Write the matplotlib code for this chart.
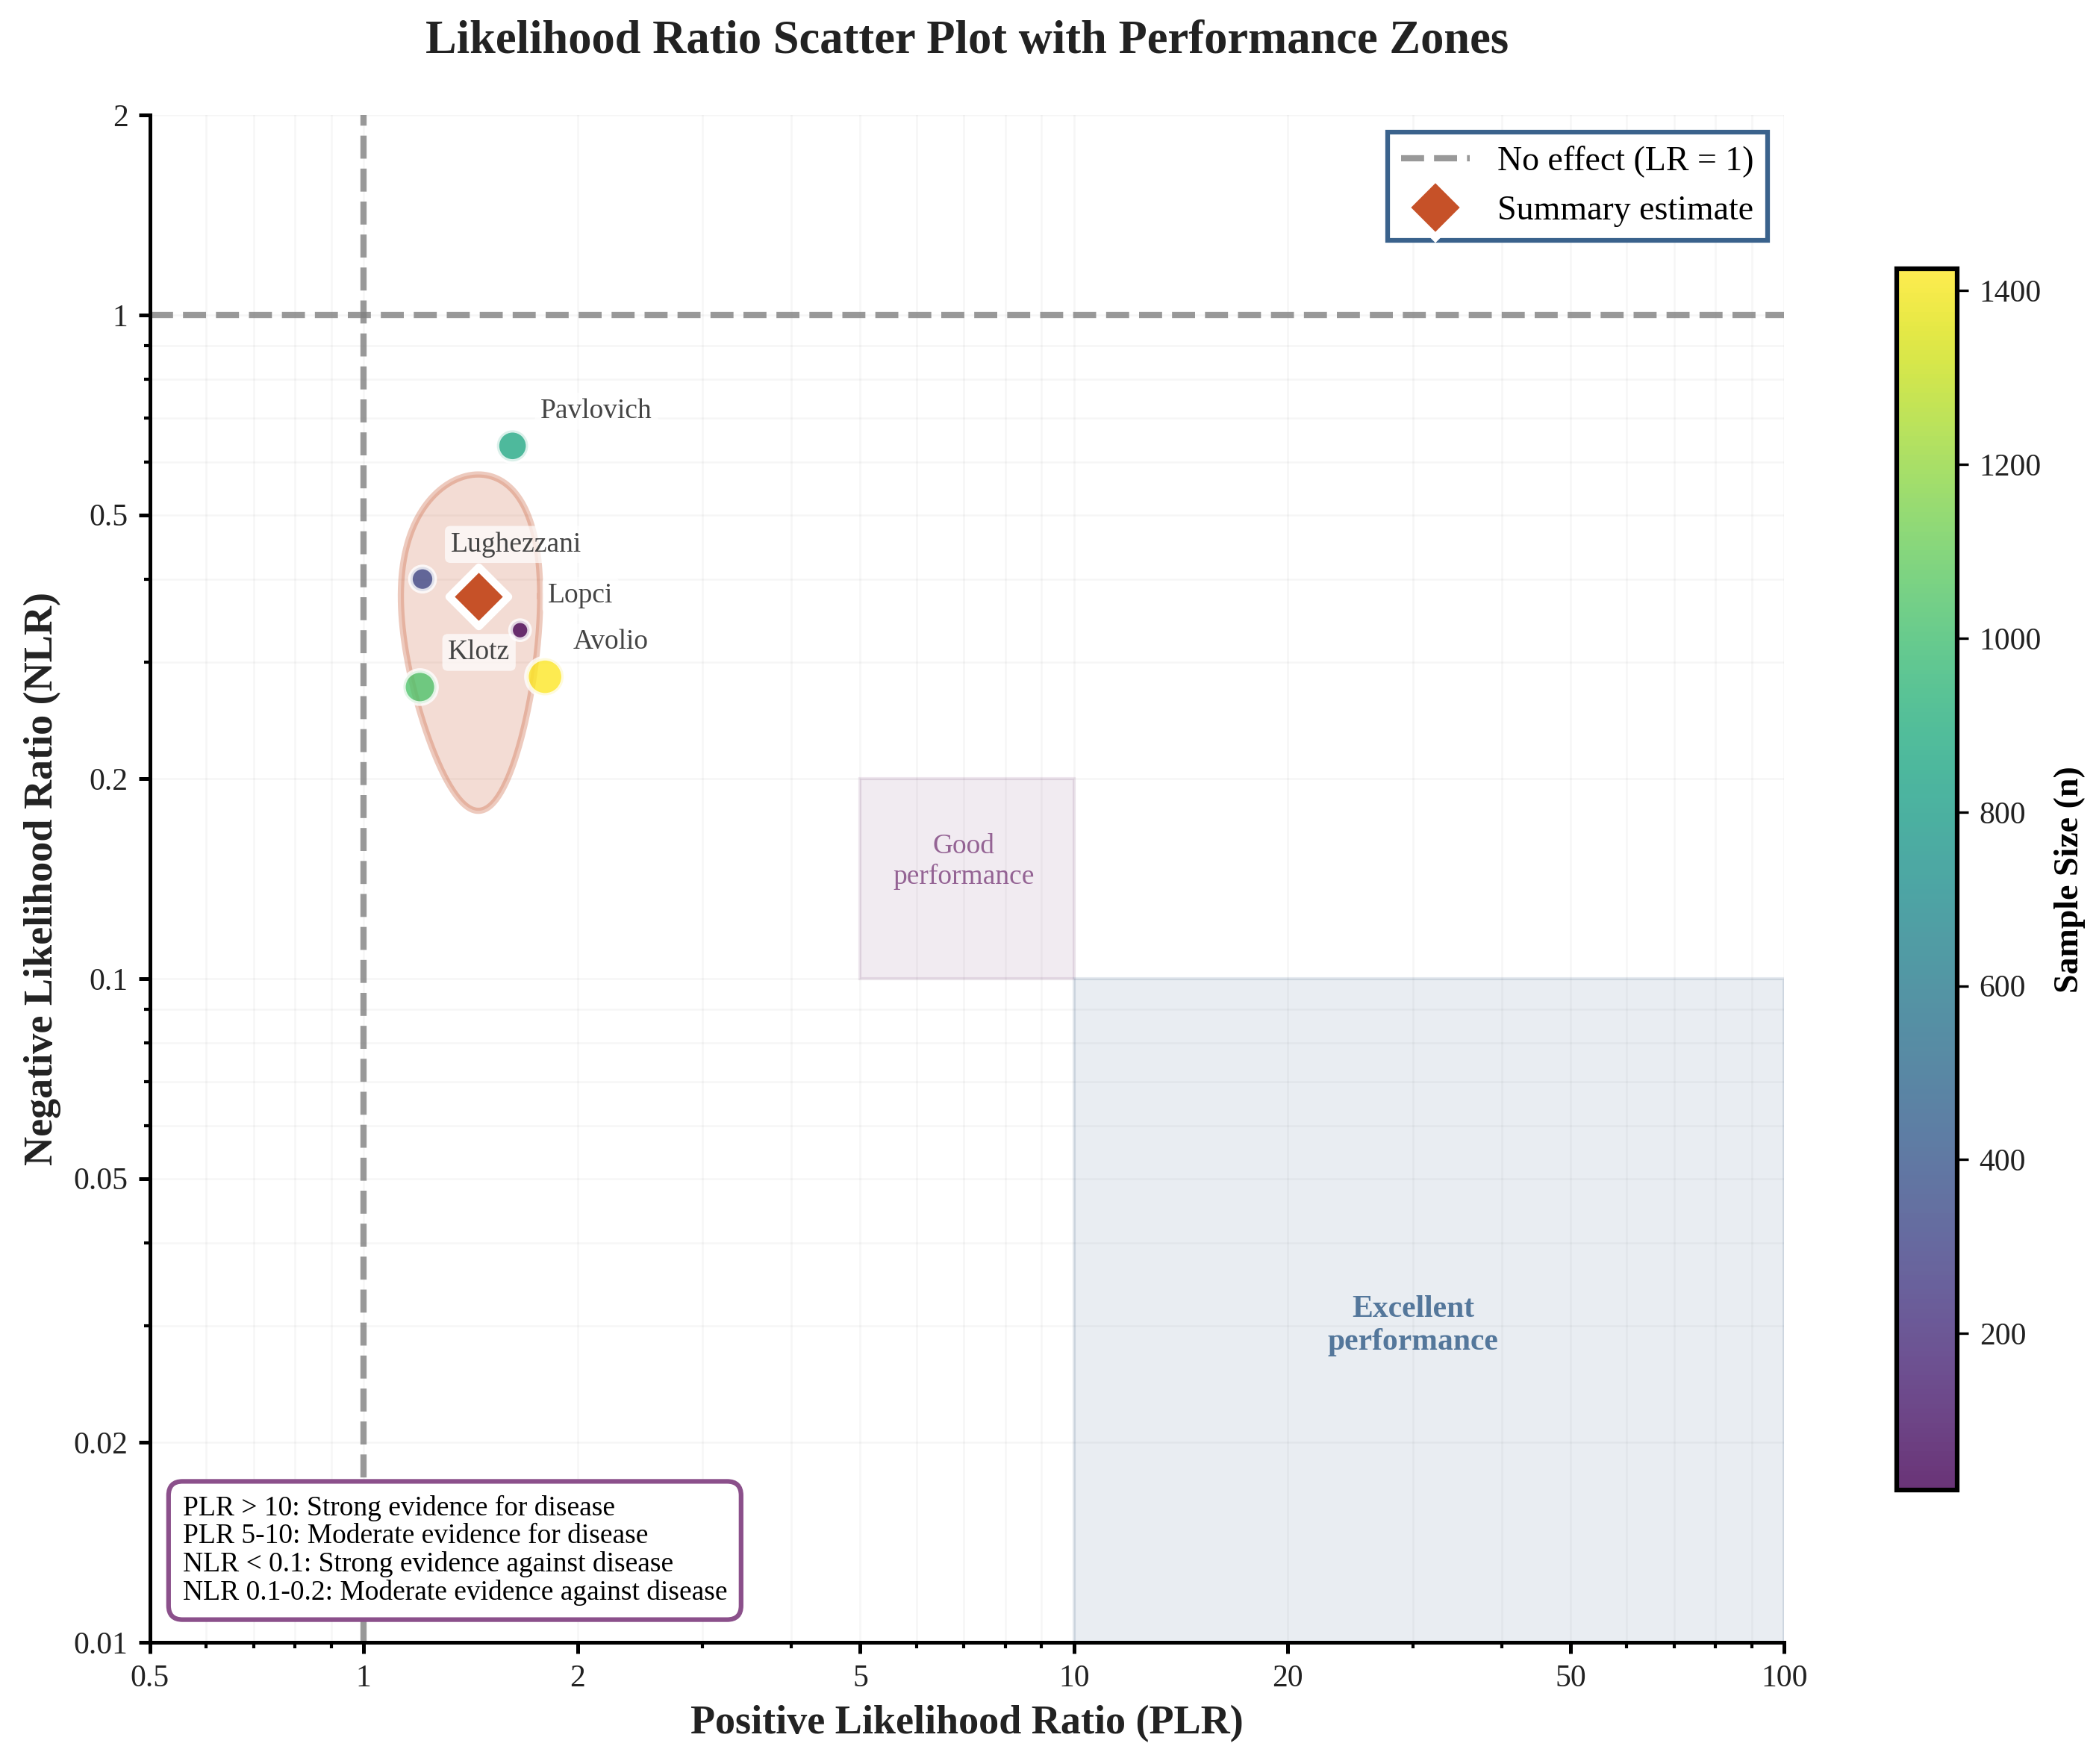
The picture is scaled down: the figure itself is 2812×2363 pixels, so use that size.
import numpy as np
import matplotlib
matplotlib.use("Agg")
import matplotlib.pyplot as plt
from matplotlib.patches import Rectangle
from matplotlib.lines import Line2D

plt.rcParams['font.family'] = ['Liberation Serif', 'DejaVu Serif']

# study data
studies = ['Pavlovich', 'Lughezzani', 'Lopci', 'Avolio', 'Klotz']
plr = [1.62, 1.21, 1.66, 1.80, 1.20]
nlr = [0.635, 0.40, 0.335, 0.285, 0.275]
sample_n = [865, 330, 20, 1425, 1030]

# pooled estimate and its region
summary_plr = 1.45
summary_nlr = 0.377
region_plr_half = 0.322
region_nlr_half = 0.198

# zones: (x0, x1, y0, y1) and label anchor
good_zone = (5, 10, 0.1, 0.2)
good_label_at = (7, 0.15)
excellent_zone = (10, 100, 0.01, 0.1)
excellent_label_at = (30, 0.03)

xticks = [0.5, 1, 2, 5, 10, 20, 50, 100]
yticks = [0.01, 0.02, 0.05, 0.1, 0.2, 0.5, 1, 2]

purple = '#7D417D'
steel = '#3A628C'
rust = '#C65128'

fig = plt.figure(figsize=(2812 / 300, 2363 / 300), dpi=300)
ax = fig.add_axes([0.0714, 0.069, 0.7787, 0.8657])
cax = fig.add_axes([0.9036, 0.1555, 0.029, 0.692])

ax.set_xscale('log')
ax.set_yscale('log')
ax.set_xlim(0.5, 100)
ax.set_ylim(0.01, 2)

# performance zones
gx0, gx1, gy0, gy1 = good_zone
ax.add_patch(Rectangle((gx0, gy0), gx1 - gx0, gy1 - gy0, facecolor=(0.49, 0.255, 0.49, 0.1),
                       edgecolor=(0.49, 0.255, 0.49, 0.12), lw=1, zorder=1))
ax.text(*good_label_at, 'Good\nperformance', ha='center', va='center',
        fontsize=9, color=purple, alpha=0.8)
ex0, ex1, ey0, ey1 = excellent_zone
ax.add_patch(Rectangle((ex0, ey0), ex1 - ex0, ey1 - ey0, facecolor=(0.227, 0.384, 0.549, 0.11),
                       edgecolor=(0.227, 0.384, 0.549, 0.13), lw=1, zorder=1))
ax.text(*excellent_label_at, 'Excellent\nperformance', ha='center', va='center',
        fontsize=10, color=steel, alpha=0.85, fontweight='bold')

# reference lines
ax.axhline(1, color='gray', ls='--', lw=2, alpha=0.8, zorder=2)
ax.axvline(1, color='gray', ls='--', lw=2, alpha=0.8, zorder=2)

# confidence region around the summary estimate
t = np.linspace(0, 2 * np.pi, 300)
ex = summary_plr + region_plr_half * np.cos(t)
ey = summary_nlr + region_nlr_half * np.sin(t)
ax.fill(ex, ey, facecolor=rust, alpha=0.2, zorder=2)
ax.plot(ex, ey, color=rust, alpha=0.3, lw=2, zorder=2)

sizes = [36 + 0.075 * n for n in sample_n]
sc = ax.scatter(plr, nlr, c=sample_n, s=sizes, cmap='viridis', alpha=0.8,
                edgecolors='white', linewidths=1.5, zorder=4)

for name, x, y in zip(studies, plr, nlr):
    ax.annotate(name, (x, y), xytext=(9, 7), textcoords='offset points', ha='left', va='bottom',
                fontsize=9, color='#444444',
                bbox=dict(boxstyle='round,pad=0.2', facecolor='white', edgecolor='none', alpha=0.7),
                zorder=5)

ax.scatter([summary_plr], [summary_nlr], marker='D', s=180, color=rust, edgecolors='white',
           linewidths=2.5, zorder=6)

ax.set_xticks(xticks)
ax.set_xticklabels([f'{v:g}' for v in xticks])
ax.set_yticks(yticks)
ax.set_yticklabels([f'{v:g}' for v in yticks])
ax.tick_params(axis='both', which='major', labelsize=10, width=1.2, labelcolor='#222222')
ax.tick_params(axis='both', which='minor', width=1, labelleft=False, labelbottom=False)

ax.grid(True, which='both', color='gray', alpha=0.07, lw=0.6)
ax.set_axisbelow(True)
for s in ['top', 'right']:
    ax.spines[s].set_visible(False)
for s in ['left', 'bottom']:
    ax.spines[s].set_linewidth(1.2)

ax.set_xlabel('Positive Likelihood Ratio (PLR)', fontsize=13, fontweight='bold', color='#222222')
ax.set_ylabel('Negative Likelihood Ratio (NLR)', fontsize=13, fontweight='bold', color='#222222')
ax.set_title('Likelihood Ratio Scatter Plot with Performance Zones', fontsize=15,
             fontweight='bold', color='#222222', pad=20)

handles = [Line2D([0], [0], color='gray', ls='--', lw=2, alpha=0.8),
           Line2D([0], [0], marker='D', color='white', markerfacecolor=rust,
                  markeredgecolor='white', markeredgewidth=2.5, markersize=13.5, lw=0)]
leg = ax.legend(handles, ['No effect (LR = 1)', 'Summary estimate'], loc='upper right',
                fontsize=11, fancybox=False, framealpha=1)
leg.get_frame().set_edgecolor(steel)
leg.get_frame().set_linewidth(1.5)

note = ('PLR > 10: Strong evidence for disease\n'
        'PLR 5-10: Moderate evidence for disease\n'
        'NLR < 0.1: Strong evidence against disease\n'
        'NLR 0.1-0.2: Moderate evidence against disease')
ax.text(0.02, 0.024, note, transform=ax.transAxes, fontsize=9, va='bottom', ha='left',
        linespacing=1.1,
        bbox=dict(boxstyle='round,pad=0.5', facecolor='white', edgecolor='#8B508B', lw=1.5))

cb = fig.colorbar(sc, cax=cax)
cb.set_label('Sample Size (n)', fontsize=11, fontweight='bold')
cb.ax.tick_params(labelsize=10, labelcolor='#222222')
cb.outline.set_linewidth(1.5)

fig.savefig('out.png', dpi=300)
